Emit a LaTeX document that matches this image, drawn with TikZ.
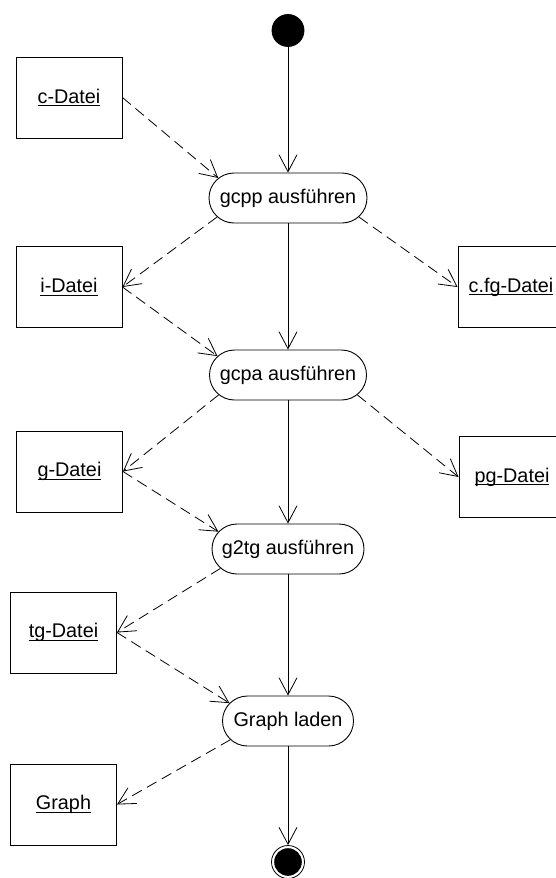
\documentclass[tikz,border=0pt]{standalone}
\usepackage{fontspec}
\setmainfont{Liberation Sans}
\usetikzlibrary{shapes.misc,arrows.meta}

% underline at a fixed depth below the baseline
\newcommand{\ultext}[1]{\setbox0=\hbox{#1}\hbox{\rlap{\rule[-3pt]{\wd0}{0.9pt}}\box0}}

\tikzset{
  every node/.style={font=\fontsize{19.8}{23}\selectfont},
  action/.style={rounded rectangle, draw, line width=0.9pt, minimum height=50pt, inner sep=0pt},
  artifact/.style={rectangle, draw, line width=0.9pt, minimum width=106pt, minimum height=81pt, inner sep=0pt},
  flow/.style={line width=0.8pt, -{Straight Barb[length=17pt,width=18pt,line width=0.8pt]}},
  objflow/.style={flow, dash pattern=on 11pt off 6pt}
}

\begin{document}
\begin{tikzpicture}[x=1pt,y=-1pt]
\useasboundingbox (0,0) rectangle (556,878);
\clip (0,0) rectangle (556,878);

% initial and final states
\node[circle, fill=black, draw, line width=0.8pt, minimum size=32pt, inner sep=0pt] (start) at (288,30.5) {};
\node[circle, draw, line width=0.8pt, minimum size=33pt, inner sep=0pt] (stop) at (288,862) {};
\fill (stop.center) circle (13.8);

% actions
\node[action, minimum width=158pt] (gcpp) at (288,198) {gcpp ausführen};
\node[action, minimum width=157pt] (gcpa) at (288,375) {gcpa ausführen};
\node[action, minimum width=152pt] (g2tg) at (288,549) {g2tg ausführen};
\node[action, minimum width=131pt] (laden) at (288,721) {Graph laden};

% object nodes
\node[artifact] (cdatei) at (69,97.5) {\ultext{c-Datei}};
\node[artifact] (idatei) at (69,287) {\ultext{i-Datei}};
\node[artifact] (cfgdatei) at (511,287) {\ultext{c.fg-Datei}};
\node[artifact] (gdatei) at (69.5,471.5) {\ultext{g-Datei}};
\node[artifact] (pgdatei) at (512,477) {\ultext{pg-Datei}};
\node[artifact] (tgdatei) at (63.5,632.5) {\ultext{tg-Datei}};
\node[artifact] (graph) at (63.5,804.5) {\ultext{Graph}};

% control flow
\draw[flow] (start) -- (gcpp.north);
\draw[flow] (gcpp.south) -- (gcpa.north);
\draw[flow] (gcpa.south) -- (g2tg.north);
\draw[flow] (g2tg.south) -- (laden.north);
\draw[flow] (laden.south) -- (stop.north);

% object flow
\draw[objflow] (cdatei.east) -- (gcpp.164);
\draw[objflow] (gcpp.195) -- (idatei.east);
\draw[objflow] (gcpp.345) -- (cfgdatei.west);
\draw[objflow] (idatei.east) -- (gcpa.165);
\draw[objflow] (gcpa.196) -- (gdatei.east);
\draw[objflow] (gcpa.344) -- (pgdatei.west);
\draw[objflow] (gdatei.east) -- (g2tg.166);
\draw[objflow] (g2tg.196) -- (tgdatei.east);
\draw[objflow] (tgdatei.east) -- (laden.163);
\draw[objflow] (laden.198) -- (graph.east);
\end{tikzpicture}
\end{document}
